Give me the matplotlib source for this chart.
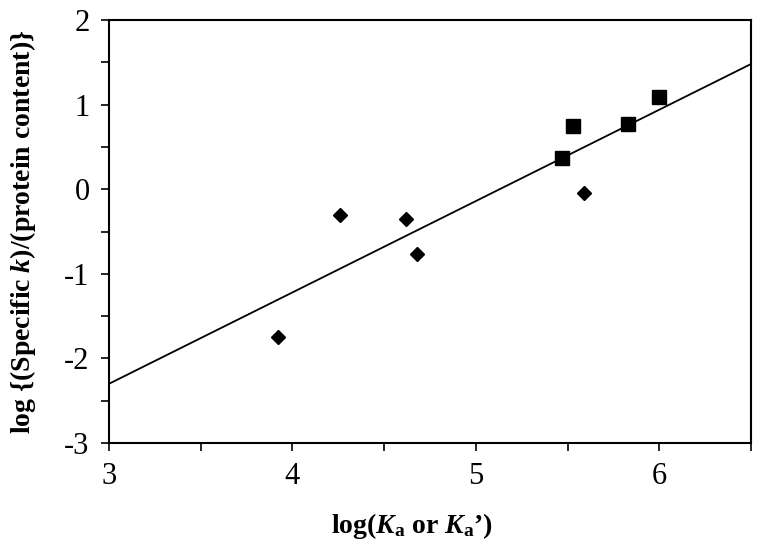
import numpy as np
import matplotlib
matplotlib.use("Agg")
import matplotlib.pyplot as plt
from matplotlib.ticker import MultipleLocator

# data
square_x = [5.47, 5.53, 5.83, 6.00]
square_y = [0.37, 0.75, 0.77, 1.09]
diamond_x = [3.92, 4.26, 4.62, 4.68, 5.59]
diamond_y = [-1.75, -0.30, -0.35, -0.77, -0.05]
fit_slope = 1.08
fit_intercept = -5.54
fit_range = [3.0, 6.5]

plt.rcParams['font.family'] = ['Liberation Serif', 'DejaVu Serif']
plt.rcParams['axes.unicode_minus'] = False
plt.rcParams['mathtext.fontset'] = 'custom'
plt.rcParams['mathtext.rm'] = 'Liberation Serif:bold'
plt.rcParams['mathtext.it'] = 'Liberation Serif:italic:bold'
plt.rcParams['mathtext.bf'] = 'Liberation Serif:bold'

fig = plt.figure(figsize=(7.64, 5.51), dpi=100)
ax = fig.add_axes([0.1427, 0.196, 0.8403, 0.7677])

fx = np.array(fit_range)
ax.plot(fx, fit_slope * fx + fit_intercept, color='black', lw=1.3)
ax.plot(square_x, square_y, 's', color='black', ms=9.5, ls='none')
ax.plot(diamond_x, diamond_y, 'D', color='black', ms=7.3, ls='none')

ax.set_xlim(3, 6.5)
ax.set_ylim(-3, 2)
ax.xaxis.set_major_locator(MultipleLocator(1))
ax.xaxis.set_minor_locator(MultipleLocator(0.5))
ax.yaxis.set_major_locator(MultipleLocator(1))
ax.yaxis.set_minor_locator(MultipleLocator(0.5))
ax.tick_params(which='both', direction='out', length=6, width=1.2,
               top=False, right=False, labelsize=22, pad=8)
for s in ax.spines.values():
    s.set_linewidth(1.5)

ax.set_xlabel(r"log($K_\mathrm{a}$ or $K_\mathrm{a}$’)", fontsize=20,
              fontweight='bold')
ax.xaxis.set_label_coords(0.472, -0.16)
ax.set_ylabel(r"log {(Specific $k$)/(protein content)}", fontsize=20,
              fontweight='bold')
ax.yaxis.set_label_coords(-0.11, 0.5)

fig.savefig("out.png", dpi=100)
